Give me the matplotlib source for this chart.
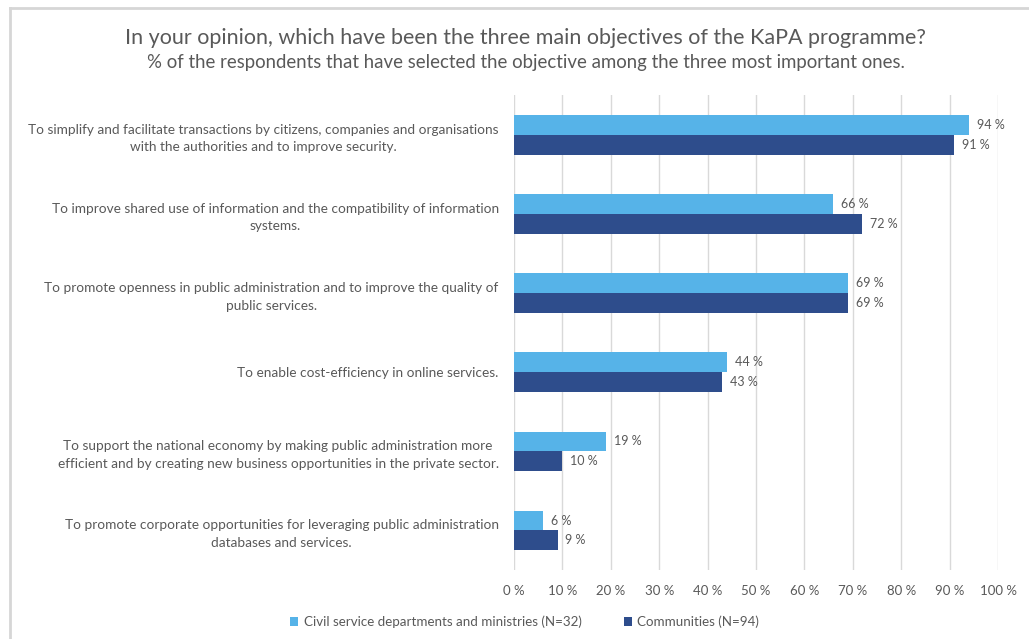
import matplotlib.pyplot as plt
import numpy as np
from matplotlib.lines import Line2D

plt.rcParams['font.family'] = ['Lato', 'DejaVu Sans']

# Данные
objectives = [
    'To simplify and facilitate transactions by citizens, companies and organisations\nwith the authorities and to improve security.',
    'To improve shared use of information and the compatibility of information\nsystems.',
    'To promote openness in public administration and to improve the quality of\npublic services.',
    'To enable cost-efficiency in online services.',
    'To support the national economy by making public administration more\nefficient and by creating new business opportunities in the private sector.',
    'To promote corporate opportunities for leveraging public administration\ndatabases and services.',
]
civil_service = [94, 66, 69, 44, 19, 6]
communities = [91, 72, 69, 43, 10, 9]
series_names = ['Civil service departments and ministries (N=32)', 'Communities (N=94)']
x_ticks = list(range(0, 101, 10))

light = '#56b3e8'
dark = '#2e4d8c'
grey = '#595959'

fig = plt.figure(figsize=(10.29, 6.39), dpi=100)
ax = fig.add_axes([0.4995, 0.108, 0.4704, 0.743])

y = np.arange(len(objectives))
h = 0.25
b1 = ax.barh(y - h / 2, civil_service, height=h, color=light, label=series_names[0])
b2 = ax.barh(y + h / 2, communities, height=h, color=dark, label=series_names[1])

# Подписи значений
for bars, vals in ((b1, civil_service), (b2, communities)):
    for bar, v in zip(bars, vals):
        ax.text(v + 1.6, bar.get_y() + bar.get_height() / 2, f'{v} %',
                va='center', ha='left', fontsize=9, color=grey)

ax.set_xlim(0, 100)
ax.set_ylim(len(objectives) - 0.5, -0.5)
ax.set_xticks(x_ticks)
ax.set_xticklabels([f'{t} %' for t in x_ticks], fontsize=9.5, color=grey)
ax.set_yticks(y)
ax.set_yticklabels(objectives, fontsize=9.8, color=grey, multialignment='center',
                   linespacing=1.55)
ax.tick_params(axis='both', length=0)
ax.tick_params(axis='y', pad=11)
ax.tick_params(axis='x', pad=11)
ax.xaxis.grid(True, color='#d9d9d9', linewidth=1)
ax.set_axisbelow(True)
for s in ax.spines.values():
    s.set_visible(False)

# Заголовок
fig.text(0.511, 0.94, 'In your opinion, which have been the three main objectives of the KaPA programme?',
         ha='center', va='center', fontsize=15.5, color=grey)
fig.text(0.511, 0.902, '% of the respondents that have selected the objective among the three most important ones.',
         ha='center', va='center', fontsize=13.4, color=grey)

fig.legend(handles=[b1, b2], loc='center', bbox_to_anchor=(0.51, 0.027), ncol=2,
           frameon=False, fontsize=9.6, labelcolor=grey, handlelength=0.6, handleheight=0.6,
           handletextpad=0.4, columnspacing=3.2)

# Рамка
fig.add_artist(Line2D([10 / 1029, 1], [1 - 8 / 639, 1 - 8 / 639], color='#d6d6d6', linewidth=2))
fig.add_artist(Line2D([10 / 1029, 10 / 1029], [0, 1 - 8 / 639], color='#d6d6d6', linewidth=2))

fig.savefig('out.png', dpi=100)
